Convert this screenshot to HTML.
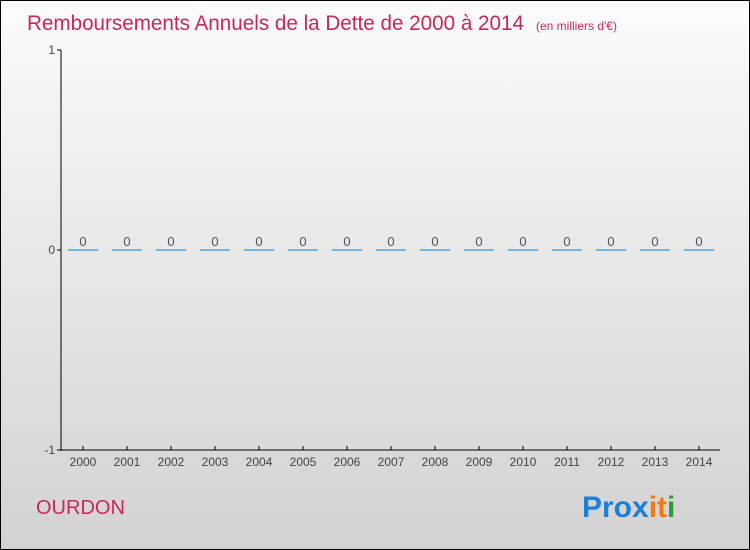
<!DOCTYPE html>
<html><head><meta charset="utf-8"><style>
body{margin:0}
#c{width:748px;height:548px;border:1px solid #000;background:linear-gradient(#fbfbfb,#d2d2d2);position:relative;font-family:"Liberation Sans",sans-serif;overflow:hidden}
</style></head><body>
<div id="c">
<svg width="748" height="548" viewBox="1 1 748 548" id="svg">
<text x="27" y="30" font-size="21" fill="#c8285a" textLength="497" lengthAdjust="spacingAndGlyphs">Remboursements Annuels de la Dette de 2000 à 2014</text>
<text x="536" y="30" font-size="12" fill="#c8285a">(en milliers d'€)</text>
<line x1="61" y1="50" x2="61" y2="451" stroke="#000"/>
<line x1="61" y1="450" x2="720" y2="450" stroke="#000"/>
<g id="marks"></g>
<text x="36" y="514" font-size="20" fill="#c8285a">OURDON</text>
<text x="582" y="517" font-size="30" font-weight="bold" fill="#1a7fd6">Pro<tspan fill="#1a7fd6">x</tspan><tspan fill="#f07a10">it</tspan><tspan fill="#2a9a3a">i</tspan></text>
</svg>
</div>
<script>
const years=["2000","2001","2002","2003","2004","2005","2006","2007","2008","2009","2010","2011","2012","2013","2014"];
const values=[0,0,0,0,0,0,0,0,0,0,0,0,0,0,0];
const yTicks=[1,0,-1];
const ns="http://www.w3.org/2000/svg";
const g=document.getElementById('marks');
const x=i=>83+i*44;
const y=v=>250-v*200;
function mk(t,a){const e=document.createElementNS(ns,t);for(const k in a)e.setAttribute(k,a[k]);g.appendChild(e);return e;}
yTicks.forEach(v=>{
 const l=mk('line',{x1:57,x2:61,y1:y(v),y2:y(v),stroke:'#000'});
 
 
 const t=mk('text',{x:55,y:y(v)+4,'font-size':12,fill:'#444','text-anchor':'end'});t.textContent=v;
 
 
});
years.forEach((yr,i)=>{
 const l=mk('line',{x1:x(i),x2:x(i),y1:446,y2:450,stroke:'#000'});
 
 
 const t=mk('text',{x:x(i),y:466,'font-size':12,fill:'#444','text-anchor':'middle'});t.textContent=yr;
 
 
 const b=mk('line',{x1:x(i)-15,x2:x(i)+15,y1:y(values[i]),y2:y(values[i]),stroke:'#4da6e8','stroke-width':1.5});
 
 
 const v=mk('text',{x:x(i),y:y(values[i])-4,'font-size':13,fill:'#555','text-anchor':'middle'});v.textContent=values[i];
 
 
});
</script>
</body></html>
